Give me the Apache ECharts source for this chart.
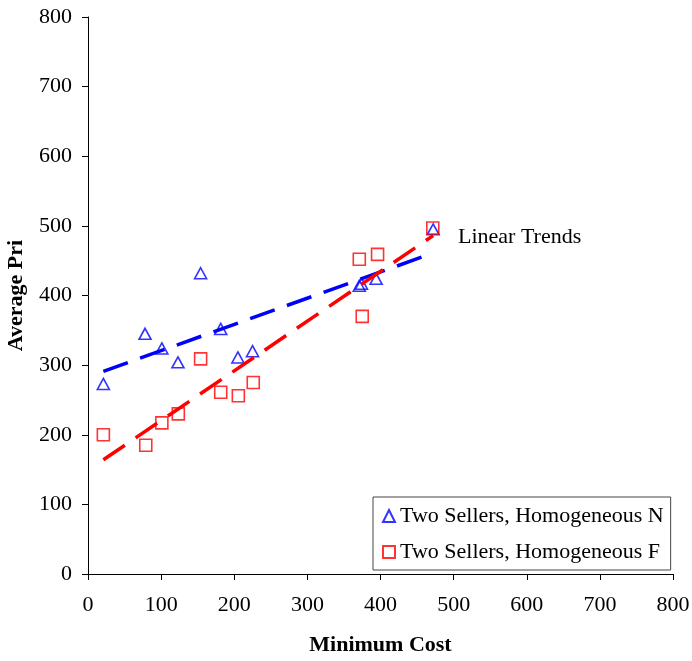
<!DOCTYPE html>
<html><head><meta charset="utf-8">
<script src="https://cdn.jsdelivr.net/npm/echarts@6/dist/echarts.min.js"></script>
<style>html,body{margin:0;padding:0;background:#fff}#c{width:692px;height:661px}</style>
</head><body><div id="c"></div>
<script>
const seriesNames = ['Two Sellers, Homogeneous N', 'Two Sellers, Homogeneous F'];
const nCost = [21, 78, 101, 123, 154, 181.5, 205, 225, 371, 374, 394, 472];
const nPrice = [273, 345, 324, 304, 432, 352, 311, 320, 414, 417, 424, 495];
const fCost = [21, 79, 101, 123.5, 154, 181.5, 205.6, 226, 371, 396, 375, 471.5];
const fPrice = [200, 185, 217, 230, 309, 261, 256, 275, 452, 459, 370, 497];
const trendCost = [21, 472];
const nTrendPrice = [291, 461];
const fTrendPrice = [164, 486];
const xTicks = ['0','100','200','300','400','500','600','700','800'];
const yTicks = ['0','100','200','300','400','500','600','700','800'];

const zip = (a, b) => a.map((v, i) => [v, b[i]]);
const font = "'Liberation Serif','Times New Roman',serif";
const chart = echarts.init(document.getElementById('c'));
const axisCommon = {
  min: 0, max: 800, interval: 100,
  splitLine: {show: false},
  axisLine: {show: true, lineStyle: {color: '#000', width: 1}},
  axisTick: {show: true, inside: false, length: 6, lineStyle: {color: '#000'}},
  nameLocation: 'middle',
  nameTextStyle: {fontFamily: font, fontWeight: 'bold', fontSize: 22, color: '#000'}
};
chart.setOption({
  animation: false,
  backgroundColor: '#fff',
  grid: {left: 88, right: 19, top: 17, bottom: 87, containLabel: false, outerBoundsMode: 'none'},
  xAxis: Object.assign({}, axisCommon, {
    type: 'value', name: 'Minimum Cost', nameGap: 60,
    axisLabel: {margin: 20, fontFamily: font, fontSize: 22, color: '#000',
      formatter: (v) => xTicks[Math.round(v / 100)]}
  }),
  yAxis: Object.assign({}, axisCommon, {
    type: 'value', name: 'Average Pri', nameGap: 61,
    axisLabel: {margin: 16, fontFamily: font, fontSize: 22, color: '#000',
      formatter: (v) => yTicks[Math.round(v / 100)]}
  }),
  legend: {
    orient: 'vertical', left: 373, top: 497,
    padding: [8, 7, 7, 9], itemGap: 14, itemWidth: 12, itemHeight: 12,
    borderColor: '#444', borderWidth: 1, backgroundColor: '#fff',
    textStyle: {fontFamily: font, fontSize: 22, color: '#000'},
    data: seriesNames
  },
  graphic: [{type: 'text', left: 458, top: 226,
    style: {text: 'Linear Trends', font: "22px 'Liberation Serif','Times New Roman',serif", fill: '#000'}}],
  series: [
    {name: seriesNames[0], type: 'scatter', symbol: 'triangle', symbolSize: [12, 11],
      itemStyle: {color: 'rgba(0,0,0,0)', borderColor: '#0000ff', borderWidth: 1.6},
      data: zip(nCost, nPrice), z: 2},
    {name: seriesNames[1], type: 'scatter', symbol: 'rect', symbolSize: 12,
      itemStyle: {color: 'rgba(0,0,0,0)', borderColor: '#ff0000', borderWidth: 1.6},
      data: zip(fCost, fPrice), z: 2},
    {name: 'N trend', type: 'line', showSymbol: false, symbol: 'none', silent: true,
      lineStyle: {color: '#0000ff', width: 3.5, type: [26, 13]},
      data: zip(trendCost, nTrendPrice), z: 3},
    {name: 'F trend', type: 'line', showSymbol: false, symbol: 'none', silent: true,
      lineStyle: {color: '#ff0000', width: 3.5, type: [26, 13]},
      data: zip(trendCost, fTrendPrice), z: 3}
  ]
});
</script></body></html>
